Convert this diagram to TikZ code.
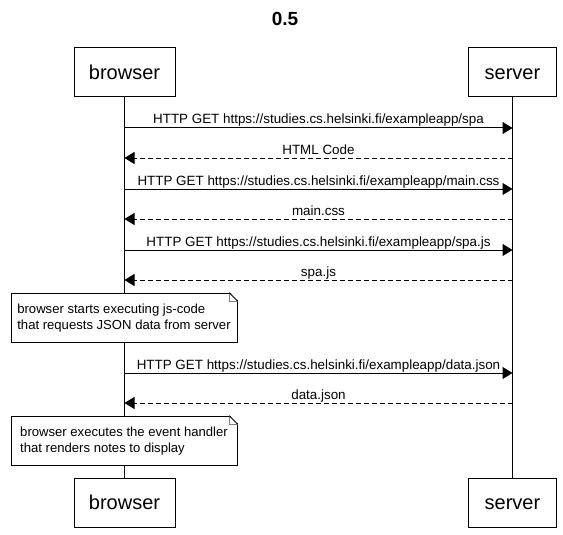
\documentclass[tikz,border=0pt]{standalone}
\usepackage{fontspec}
\setmainfont{Liberation Sans}
\usetikzlibrary{calc,arrows.meta}
\newcommand{\lblsize}{\fontsize{13.4}{15}\selectfont}
\newcommand{\notesize}{\fontsize{13.1}{15.5}\selectfont}
\newcommand{\boxsize}{\fontsize{20}{23}\selectfont}
\newcommand{\foldsize}{8}
\newcommand{\prfold}[1]{%
  \fill[white] ($(#1.north east)+(-\foldsize,-1)$) -- ($(#1.north east)+(1,-1)$) -- ($(#1.north east)+(1,\foldsize)$) -- cycle;
  \draw[gray, line width=1pt] ($(#1.north east)+(-\foldsize,0)$) -- ++(0,\foldsize) -- ($(#1.north east)+(0,\foldsize)$);
  \draw[line width=1pt, line cap=rect] ($(#1.north east)+(-\foldsize,0)$) -- ($(#1.north east)+(0,\foldsize)$);}
\tikzset{
  actor/.style={draw, fill=white, line width=1pt, minimum height=49pt, inner sep=0pt,
    text height=14pt, text depth=0pt, font=\boxsize},
  req/.style={line width=1pt, -{Triangle[length=10pt,width=12pt]}},
  resp/.style={req, dash pattern=on 5pt off 3pt},
  lbl/.style={midway, anchor=base, yshift=4pt, inner sep=0pt, font=\lblsize},
  note/.style={draw, fill=white, line width=1pt, anchor=north west, minimum height=49pt,
    minimum width=226pt, inner sep=0pt, align=left, font=\notesize},
}

\begin{document}
\begin{tikzpicture}[x=1pt,y=-1pt]
    \useasboundingbox (0,0) rectangle (563,535);
    \node[font=\bfseries\fontsize{19}{23}\selectfont] (title) at (285,18.5) {0.5};

    \node[actor, minimum width=101pt] (b-top) at (124.5,72.5) {browser};
    \node[actor, minimum width=88pt] (s-top) at (512.5,72.5) {server};
    \node[actor, minimum width=101pt] (b-bot) at (124.5,502.5) {browser};
    \node[actor, minimum width=88pt] (s-bot) at (512.5,502.5) {server};

    \draw[line width=1pt] (b-top) -- (b-bot);
    \draw[line width=1pt] (s-top) -- (s-bot);

    \foreach \i/\y in {1/128,2/158,3/189,4/219,5/250,6/280,7/373,8/403}{
      \coordinate (b\i) at (124.5,\y);
      \coordinate (s\i) at (512.5,\y);
    }

    \draw[req] (b1) -- node[lbl] {HTTP GET https://studies.cs.helsinki.fi/exampleapp/spa} (s1);
    \draw[resp] (s2) -- node[lbl] {HTML Code} (b2);
    \draw[req] (b3) -- node[lbl] {HTTP GET https://studies.cs.helsinki.fi/exampleapp/main.css} (s3);
    \draw[resp] (s4) -- node[lbl] {main.css} (b4);
    \draw[req] (b5) -- node[lbl] {HTTP GET https://studies.cs.helsinki.fi/exampleapp/spa.js} (s5);
    \draw[resp] (s6) -- node[lbl] {spa.js} (b6);

    \node[note] (n1) at (10.5,293) {browser starts executing js-code\\that requests JSON data from server};
    \prfold{n1}

    \draw[req] (b7) -- node[lbl] {HTTP GET https://studies.cs.helsinki.fi/exampleapp/data.json} (s7);
    \draw[resp] (s8) -- node[lbl] {data.json} (b8);

    \node[note] (n2) at (10.5,416) {browser executes the event handler\\that renders notes to display};
    \prfold{n2}
\end{tikzpicture}
\end{document}
